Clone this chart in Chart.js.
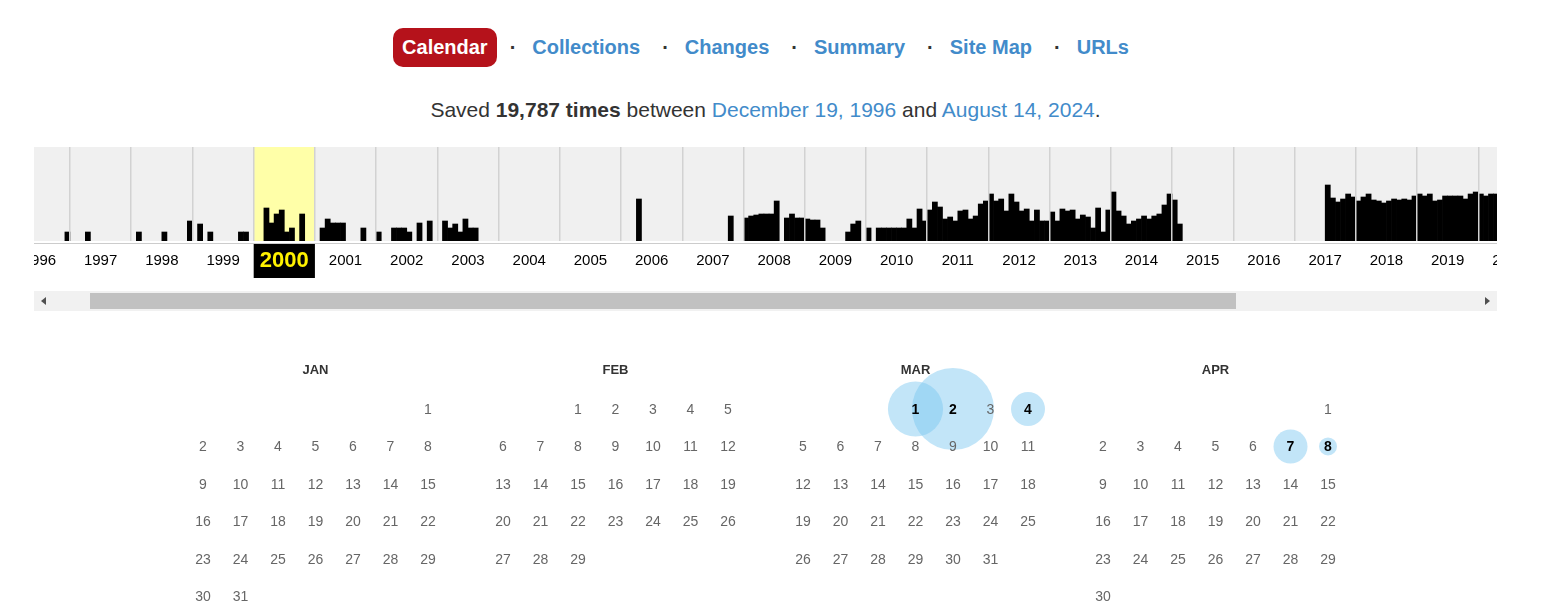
<!DOCTYPE html>
<html>
<head>
<meta charset="utf-8">
<script src="https://cdn.jsdelivr.net/npm/chart.js@4.4.1/dist/chart.umd.min.js"></script>
<style>
body { margin: 0; background: #fff; font-family: "Liberation Sans", Arial, sans-serif; color: #333; overflow: hidden; }
#page { position: relative; width: 1531px; height: 607px; }
#nav { position: absolute; top: 28px; left: 0; width: 1531px; height: 39px; display: flex; justify-content: center; align-items: center; font-size: 20px; font-weight: bold; }
#nav a { color: #428bca; text-decoration: none; padding: 0 9px; line-height: 39px; }
#nav a.on { background: #b5121b; color: #fff; border-radius: 10px; }
#nav .sep { color: #333; margin: 0 7px 0 13px; }
#saved { position: absolute; top: 97px; left: 0; width: 1531px; text-align: center; font-size: 21px; line-height: 26px; }
#saved a { color: #428bca; text-decoration: none; }
#spark { position: absolute; left: 34px; top: 147px; width: 1463px; height: 135px; }
#scroll { position: absolute; left: 34px; top: 291px; width: 1463px; height: 20px; background: #f1f1f1; }
#thumb { position: absolute; left: 56px; top: 2px; width: 1146px; height: 16px; background: #c1c1c1; }
.arr { position: absolute; top: 6px; width: 0; height: 0; border-top: 4px solid transparent; border-bottom: 4px solid transparent; }
#arrL { left: 7px; border-right: 5px solid #505050; }
#arrR { right: 7px; border-left: 5px solid #505050; }
#cal { position: absolute; left: 0; top: 340px; width: 1531px; height: 267px; }
</style>
</head>
<body>
<div id="page">
  <div id="nav">
    <a class="on">Calendar</a><span class="sep">·</span>
    <a>Collections</a><span class="sep">·</span>
    <a>Changes</a><span class="sep">·</span>
    <a>Summary</a><span class="sep">·</span>
    <a>Site Map</a><span class="sep">·</span>
    <a>URLs</a>
  </div>
  <div id="saved">Saved <b>19,787 times</b> between <a>December 19, 1996</a> and <a>August 14, 2024</a>.</div>
  <div id="spark"><canvas id="sparkChart"></canvas></div>
  <div id="scroll"><div id="arrL" class="arr"></div><div id="thumb"></div><div id="arrR" class="arr"></div></div>
  <div id="cal"><canvas id="calChart"></canvas></div>
</div>
<script>
// monthly capture level per year (Jan..Dec)
const y1996 = [0, 0, 0, 0, 0, 0, 0, 0, 0, 0, 0, 9];
const y1997 = [0, 0, 0, 9, 0, 0, 0, 0, 0, 0, 0, 0];
const y1998 = [0, 9, 0, 0, 0, 0, 9, 0, 0, 0, 0, 20];
const y1999 = [0, 17, 0, 9, 0, 0, 0, 0, 0, 9, 9, 0];
const y2000 = [0, 0, 33, 18, 27, 31, 9, 13, 0, 27, 0, 0];
const y2001 = [0, 13, 22, 18, 18, 18, 0, 0, 0, 13, 0, 0];
const y2002 = [9, 0, 0, 13, 13, 13, 9, 0, 18, 0, 20, 0];
const y2003 = [0, 20, 13, 17, 9, 22, 13, 13, 0, 0, 0, 0];
const y2004 = [0, 0, 0, 0, 0, 0, 0, 0, 0, 0, 0, 0];
const y2005 = [0, 0, 0, 0, 0, 0, 0, 0, 0, 0, 0, 0];
const y2006 = [0, 0, 0, 42, 0, 0, 0, 0, 0, 0, 0, 0];
const y2007 = [0, 0, 0, 0, 0, 0, 0, 0, 0, 25, 0, 0];
const y2008 = [23, 25, 26, 27, 27, 27, 40, 0, 23, 27, 23, 23];
const y2009 = [22, 21, 21, 13, 0, 0, 0, 0, 9, 17, 20, 0];
const y2010 = [13, 0, 13, 13, 13, 13, 13, 13, 22, 13, 32, 20];
const y2011 = [31, 39, 34, 22, 24, 20, 30, 31, 22, 25, 37, 40];
const y2012 = [47, 40, 42, 30, 47, 39, 30, 32, 20, 31, 20, 20];
const y2013 = [29, 20, 32, 30, 31, 22, 26, 24, 13, 33, 9, 31];
const y2014 = [49, 30, 25, 17, 20, 22, 25, 22, 25, 27, 36, 47];
const y2015 = [41, 17, 0, 0, 0, 0, 0, 0, 0, 0, 0, 0];
const y2016 = [0, 0, 0, 0, 0, 0, 0, 0, 0, 0, 0, 0];
const y2017 = [0, 0, 0, 0, 0, 0, 56, 43, 39, 42, 47, 44];
const y2018 = [40, 44, 47, 41, 40, 38, 40, 42, 41, 42, 41, 45];
const y2019 = [47, 45, 47, 40, 41, 45, 45, 45, 45, 42, 47, 49];
const y2020 = [47, 45, 47, 47];

const years = [1996, 1997, 1998, 1999, 2000, 2001, 2002, 2003, 2004, 2005, 2006, 2007, 2008,
  2009, 2010, 2011, 2012, 2013, 2014, 2015, 2016, 2017, 2018, 2019, 2020];
const yearSeries = [y1996, y1997, y1998, y1999, y2000, y2001, y2002, y2003, y2004, y2005, y2006, y2007, y2008,
  y2009, y2010, y2011, y2012, y2013, y2014, y2015, y2016, y2017, y2018, y2019, y2020];
const selectedYear = 2000;

// calendar of the selected year
const monthNames = ['JAN', 'FEB', 'MAR', 'APR'];
const captureMonth = [2, 2, 2, 3, 3];
const captureDay = [1, 2, 4, 7, 8];
const captureCount = [5, 16, 2, 2, 1];

// months counted from Jan 1997, visible window of the scrolled strip
const viewMin = -7.055;
const viewMax = 279.67;
const m0 = (y) => (y - 1997) * 12;

const bars = [];
yearSeries.forEach((vals, i) => {
  vals.forEach((v, m) => {
    bars.push({ x: m0(years[i]) + m + 0.5, y: v || null });
  });
});

const sparkPlugin = {
  id: 'sparkBack',
  beforeDraw(chart) {
    const { ctx, chartArea: a } = chart;
    const x = chart.scales.x;
    ctx.save();
    ctx.fillStyle = '#f0f0f0';
    ctx.fillRect(a.left, a.top, a.right - a.left, a.bottom - a.top);
    const l = x.getPixelForValue(m0(selectedYear));
    const r = x.getPixelForValue(m0(selectedYear + 1));
    ctx.fillStyle = '#ffffa8';
    ctx.fillRect(l, a.top, r - l, a.bottom - a.top);
    ctx.fillStyle = '#000';
    ctx.fillRect(l, a.bottom + 3, r - l, 34);
    ctx.restore();
  }
};

const noSidePad = (s) => { s.paddingLeft = 0; s.paddingRight = 0; };

new Chart(document.getElementById('sparkChart'), {
  type: 'bar',
  data: {
    datasets: [{
      data: bars,
      backgroundColor: '#000',
      borderWidth: 0,
      barPercentage: 1,
      categoryPercentage: 1,
      grouped: false
    }]
  },
  options: {
    responsive: true,
    maintainAspectRatio: false,
    animation: false,
    layout: { padding: 0, autoPadding: false },
    plugins: { legend: { display: false }, tooltip: { enabled: false } },
    scales: {
      xg: {
        type: 'linear', position: 'bottom', weight: 0, offset: false,
        min: viewMin, max: viewMax,
        afterBuildTicks: (s) => { s.ticks = years.slice(1).map((y) => ({ value: m0(y) })); },
        afterFit: (s) => { s.height = 2; noSidePad(s); },
        ticks: { display: false },
        border: { display: false },
        grid: { color: '#d2d2d2', lineWidth: 1.5, drawTicks: false, offset: false, z: 1 }
      },
      x: {
        type: 'linear', position: 'bottom', weight: 1, offset: false,
        min: viewMin, max: viewMax,
        afterBuildTicks: (s) => { s.ticks = years.map((y) => ({ value: m0(y) + 6 })); },
        afterFit: (s) => { s.height = 39; noSidePad(s); },
        grid: { display: false, drawTicks: false, offset: false },
        border: { color: '#cccccc', width: 1 },
        ticks: {
          autoSkip: false, maxRotation: 0, padding: 9,
          callback: (v, i) => String(years[i]),
          color: (c) => (c.tick && c.tick.value === m0(selectedYear) + 6 ? '#fff200' : '#000'),
          font: (c) => (c.tick && c.tick.value === m0(selectedYear) + 6
            ? { family: 'Liberation Sans', size: 22, weight: 'bold', lineHeight: '18px' }
            : { family: 'Liberation Sans', size: 15, lineHeight: '18px' })
        }
      },
      y: { display: false, min: 0, max: 94 }
    }
  },
  plugins: [sparkPlugin]
});

// calendar grid: x = month * 8 + weekday, y = week row
const colW = 37.5, rowH = 37.45;
const calX0 = 203, calY0 = 409 - 340;
const cellOf = (m, d) => {
  const first = new Date(selectedYear, m, 1).getDay();
  const idx = first + d - 1;
  return { x: m * 8 + (idx % 7), y: Math.floor(idx / 7) };
};
const bubbles = captureDay.map((d, i) => {
  const c = cellOf(captureMonth[i], d);
  return { x: c.x, y: c.y, r: 9 + 8 * Math.log2(captureCount[i]) };
});

const calPlugin = {
  id: 'calText',
  afterDatasetsDraw(chart) {
    const { ctx } = chart;
    const sx = chart.scales.x, sy = chart.scales.y;
    ctx.save();
    ctx.textAlign = 'center';
    ctx.textBaseline = 'middle';
    monthNames.forEach((name, m) => {
      ctx.font = 'bold 13px "Liberation Sans"';
      ctx.fillStyle = '#333';
      ctx.fillText(name, sx.getPixelForValue(m * 8 + 3), sy.getPixelForValue(-1.04));
      const days = new Date(selectedYear, m + 1, 0).getDate();
      for (let d = 1; d <= days; d++) {
        const c = cellOf(m, d);
        const hit = captureDay.some((cd, i) => cd === d && captureMonth[i] === m);
        ctx.font = (hit ? 'bold ' : '') + '14px "Liberation Sans"';
        ctx.fillStyle = hit ? '#000' : '#666';
        ctx.fillText(String(d), sx.getPixelForValue(c.x), sy.getPixelForValue(c.y) + 1);
      }
    });
    ctx.restore();
  }
};

const calH = 267, calW = 1531;
new Chart(document.getElementById('calChart'), {
  type: 'bubble',
  data: {
    datasets: [{
      data: bubbles,
      backgroundColor: 'rgba(120, 198, 240, 0.45)',
      borderWidth: 0,
      hoverRadius: 0
    }]
  },
  options: {
    responsive: true,
    maintainAspectRatio: false,
    animation: false,
    layout: { padding: 0, autoPadding: false },
    plugins: { legend: { display: false }, tooltip: { enabled: false } },
    scales: {
      x: { display: false, min: -calX0 / colW, max: (calW - calX0) / colW },
      y: { display: false, reverse: true, min: -calY0 / rowH, max: (calH - calY0) / rowH }
    }
  },
  plugins: [calPlugin]
});
</script>
</body>
</html>
